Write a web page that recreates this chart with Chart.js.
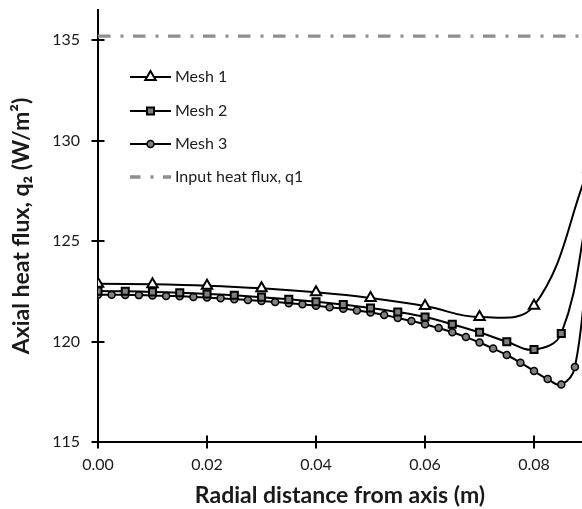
<!DOCTYPE html>
<html>
<head>
<meta charset="utf-8">
<script src="https://cdn.jsdelivr.net/npm/chart.js@4.4.0/dist/chart.umd.min.js"></script>
<style>
  html, body { margin: 0; padding: 0; background: #fff; overflow: hidden; }
</style>
</head>
<body>
<canvas id="grafico" width="582" height="509"></canvas>
<script>
// ===== valores =====
const xMesh1 = [0, 0.01, 0.02, 0.03, 0.04, 0.05, 0.06, 0.07, 0.08, 0.09];
const yMesh1 = [122.88, 122.85, 122.78, 122.65, 122.45, 122.17, 121.77, 121.22, 121.78, 128.6];

const xMesh2 = [0, 0.005, 0.01, 0.015, 0.02, 0.025, 0.03, 0.035, 0.04, 0.045,
                0.05, 0.055, 0.06, 0.065, 0.07, 0.075, 0.08, 0.085, 0.09];
const yMesh2 = [122.51, 122.50, 122.47, 122.43, 122.37, 122.30, 122.21, 122.10, 121.98, 121.84,
                121.67, 121.47, 121.22, 120.86, 120.46, 119.99, 119.60, 120.40, 126.6];

const xMesh3 = [0, 0.0025, 0.005, 0.0075, 0.01, 0.0125, 0.015, 0.0175, 0.02, 0.0225,
                0.025, 0.0275, 0.03, 0.0325, 0.035, 0.0375, 0.04, 0.0425, 0.045, 0.0475,
                0.05, 0.0525, 0.055, 0.0575, 0.06, 0.0625, 0.065, 0.0675, 0.07, 0.0725,
                0.075, 0.0775, 0.08, 0.0825, 0.085, 0.0875, 0.09];
const yMesh3 = [122.33, 122.33, 122.32, 122.31, 122.29, 122.27, 122.25, 122.22, 122.19, 122.15,
                122.11, 122.07, 122.02, 121.97, 121.91, 121.85, 121.78, 121.71, 121.63, 121.55,
                121.45, 121.32, 121.17, 121.02, 120.86, 120.67, 120.46, 120.22, 119.95, 119.65,
                119.33, 118.95, 118.53, 118.13, 117.86, 118.73, 124.6];

const xInput = [0, 0.1];
const yInput = [135.2, 135.2];

const xTicks = [0, 0.02, 0.04, 0.06, 0.08];
const yTicks = [115, 120, 125, 130, 135];

function pares(xs, ys) {
  return xs.map((x, i) => ({ x: x, y: ys[i] }));
}

function semPadding(s) {
  s.paddingLeft = 0; s.paddingRight = 0;
  s.paddingTop = 0; s.paddingBottom = 0;
}

Chart.defaults.font.family = 'Lato';
Chart.defaults.color = '#1a1a1a';

// ===== marcas dos eixos (cruzando a linha) =====
const marcasPlugin = {
  id: 'marcas',
  afterDraw(chart) {
    const { ctx, scales: { x, y } } = chart;
    ctx.save();
    ctx.strokeStyle = '#000';
    ctx.lineWidth = 2;
    x.ticks.forEach(t => {
      const px = Math.round(x.getPixelForValue(t.value));
      ctx.beginPath();
      ctx.moveTo(px, x.top - 6.5);
      ctx.lineTo(px, x.top + 6.5);
      ctx.stroke();
    });
    y.ticks.forEach(t => {
      const py = Math.round(y.getPixelForValue(t.value));
      ctx.beginPath();
      ctx.moveTo(y.right - 6.5, py);
      ctx.lineTo(y.right + 6.5, py);
      ctx.stroke();
    });
    ctx.restore();
  }
};

// ===== legenda dentro do gráfico =====
const legendaPlugin = {
  id: 'legenda',
  afterDraw(chart) {
    const ctx = chart.ctx;
    const linhasY = [77, 111, 144, 177];
    chart.data.datasets.forEach((ds, i) => {
      const y = linhasY[i];
      ctx.save();
      ctx.strokeStyle = ds.borderColor;
      ctx.lineWidth = ds.borderWidth;
      if (ds.borderDash) {
        ctx.setLineDash(ds.borderDash);
        ctx.lineDashOffset = 2;
      }
      ctx.beginPath();
      ctx.moveTo(130, y);
      ctx.lineTo(171, y);
      ctx.stroke();
      ctx.setLineDash([]);
      if (ds.pointRadius > 0) {
        ctx.fillStyle = ds.pointBackgroundColor;
        ctx.strokeStyle = ds.pointBorderColor;
        ctx.lineWidth = ds.pointBorderWidth;
        Chart.helpers.drawPoint(ctx, {
          pointStyle: ds.pointStyle, radius: ds.pointRadius,
          rotation: 0, borderWidth: ds.pointBorderWidth
        }, 150.5, y);
      }
      ctx.fillStyle = '#1a1a1a';
      ctx.font = '16px Lato';
      ctx.textBaseline = 'middle';
      ctx.fillText(ds.label, 175, y);
      ctx.restore();
    });
  }
};

new Chart(document.getElementById('grafico'), {
  type: 'line',
  data: {
    datasets: [
      {
        label: 'Mesh 1',
        data: pares(xMesh1, yMesh1),
        borderColor: '#000', borderWidth: 2,
        pointStyle: 'triangle', pointRadius: 6,
        pointBackgroundColor: '#fff', pointBorderColor: '#000', pointBorderWidth: 2
      },
      {
        label: 'Mesh 2',
        data: pares(xMesh2, yMesh2),
        borderColor: '#000', borderWidth: 2,
        pointStyle: 'rect', pointRadius: 5,
        pointBackgroundColor: '#7f7f7f', pointBorderColor: '#000', pointBorderWidth: 2
      },
      {
        label: 'Mesh 3',
        data: pares(xMesh3, yMesh3),
        borderColor: '#000', borderWidth: 2,
        pointStyle: 'circle', pointRadius: 3.5,
        pointBackgroundColor: '#7f7f7f', pointBorderColor: '#000', pointBorderWidth: 1.5
      },
      {
        label: 'Input heat flux, q1',
        data: pares(xInput, yInput),
        borderColor: '#8e8e8e', borderWidth: 3.3,
        borderDash: [12.5, 10, 3, 9.5],
        pointRadius: 0, tension: 0
      }
    ]
  },
  options: {
    responsive: false,
    animation: false,
    devicePixelRatio: 1,
    layout: { autoPadding: false, padding: { top: 10, right: 0, left: 0, bottom: 0 } },
    elements: { line: { tension: 0.4, capBezierPoints: false, fill: false } },
    plugins: { legend: { display: false }, tooltip: { enabled: false } },
    scales: {
      x: {
        type: 'linear', min: 0, max: 0.0888,
        afterBuildTicks: s => { s.ticks = xTicks.map(v => ({ value: v })); },
        afterFit: s => { s.height = 67; semPadding(s); },
        grid: { display: false, drawTicks: false },
        border: { display: true, color: '#000', width: 2 },
        ticks: { autoSkip: false, maxRotation: 0, padding: 13, font: { size: 16 },
                 callback: v => Number(v).toFixed(2) },
        title: { display: true, text: 'Radial distance from axis (m)',
                 font: { size: 23, weight: 'bold' }, padding: { top: 0, bottom: 0 } }
      },
      y: {
        type: 'linear', min: 115, max: 136.5,
        afterBuildTicks: s => { s.ticks = yTicks.map(v => ({ value: v })); },
        afterFit: s => { s.width = 98; semPadding(s); },
        grid: { display: false, drawTicks: false },
        border: { display: true, color: '#000', width: 2 },
        ticks: { autoSkip: false, padding: 18, font: { size: 16 } },
        title: { display: true, text: 'Axial heat flux, q\u2082 (W/m\u00B2)',
                 font: { size: 23, weight: 'bold' }, padding: { top: 8, bottom: 0 } }
      }
    }
  },
  plugins: [marcasPlugin, legendaPlugin]
});
</script>
</body>
</html>
